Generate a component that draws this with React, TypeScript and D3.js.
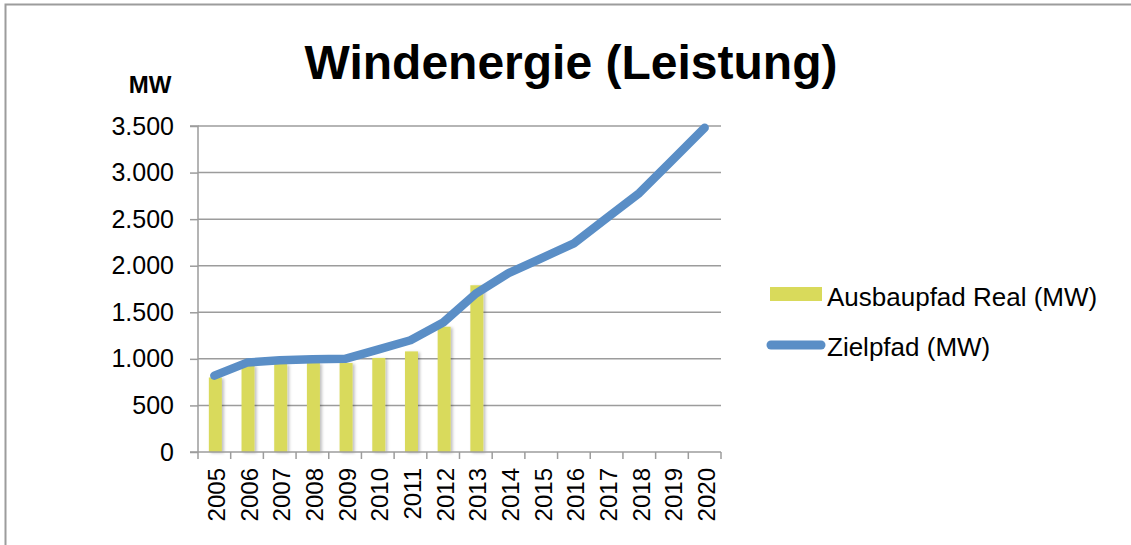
import * as d3 from "d3";
import { useEffect, useRef } from "react";

const years = [
  "2005", "2006", "2007", "2008", "2009", "2010", "2011", "2012",
  "2013", "2014", "2015", "2016", "2017", "2018", "2019", "2020",
];

// Ausbaupfad Real (MW), only until 2013
const realValues = [800, 930, 945, 955, 955, 1010, 1080, 1345, 1790];

// Zielpfad (MW)
const targetValues = [
  820, 960, 985, 995, 1000, 1100, 1200, 1390, 1700, 1920, 2080, 2240, 2510,
  2780, 3130, 3480,
];

const yTicks = [0, 500, 1000, 1500, 2000, 2500, 3000, 3500];

const seriesNames = ["Ausbaupfad Real (MW)", "Zielpfad (MW)"];

const BAR_COLOR = "#d9da5b";
const LINE_COLOR = "#5a8ec6";
const GRID_COLOR = "#9c9c9c";

const App = () => {
  const ref = useRef(null);

  useEffect(() => {
    const root = d3.select(ref.current);
    root.selectAll("*").remove();

    const width = 1131;
    const height = 545;
    const font = "'Liberation Sans', Arial, Helvetica, sans-serif";

    const svg = root
      .append("svg")
      .attr("width", width)
      .attr("height", height)
      .style("position", "absolute")
      .style("left", "0px")
      .style("top", "0px")
      .style("font-family", font);

    const defs = svg.append("defs");
    const shadow = defs.append("filter").attr("id", "barShadow")
      .attr("x", "-50%").attr("y", "-10%").attr("width", "200%").attr("height", "120%");
    shadow.append("feDropShadow")
      .attr("dx", 2).attr("dy", 1).attr("stdDeviation", 1.5)
      .attr("flood-color", "#000").attr("flood-opacity", 0.25);

    // outer frame (only top and left visible)
    svg.append("path")
      .attr("d", `M5.5,${height} V4.5 H${width}`)
      .attr("fill", "none")
      .attr("stroke", GRID_COLOR)
      .attr("stroke-width", 2);

    const plot = { left: 198, right: 721, top: 126, bottom: 452 };

    const x = d3.scaleBand().domain(years).range([plot.left, plot.right]).padding(0);
    const y = d3.scaleLinear().domain([0, 3500]).range([plot.bottom, plot.top]);

    // title
    svg.append("text")
      .attr("x", 571)
      .attr("y", 79)
      .attr("text-anchor", "middle")
      .attr("font-size", 48)
      .attr("font-weight", "bold")
      .text("Windenergie (Leistung)");

    svg.append("text")
      .attr("x", 150)
      .attr("y", 93)
      .attr("text-anchor", "middle")
      .attr("font-size", 24)
      .attr("font-weight", "bold")
      .text("MW");

    // gridlines
    svg.append("g")
      .selectAll("line")
      .data(yTicks.filter((d) => d > 0))
      .enter()
      .append("line")
      .attr("x1", plot.left)
      .attr("x2", plot.right)
      .attr("y1", (d) => y(d))
      .attr("y2", (d) => y(d))
      .attr("stroke", GRID_COLOR)
      .attr("stroke-width", 1.5);

    // y axis
    const yAxis = svg.append("g")
      .attr("transform", `translate(${plot.left},0)`)
      .call(
        d3.axisLeft(y)
          .tickValues(yTicks)
          .tickSize(8)
          .tickPadding(16)
          .tickFormat((d) => d3.format(",")(d).replace(/,/g, "."))
      );
    yAxis.select(".domain").attr("stroke", GRID_COLOR).attr("stroke-width", 1.5)
      .attr("d", `M-8,${plot.top}H0V${plot.bottom}`);
    yAxis.selectAll(".tick line").attr("stroke", GRID_COLOR).attr("stroke-width", 1.5);
    yAxis.selectAll(".tick text")
      .attr("font-size", 25)
      .attr("font-family", font)
      .attr("fill", "#000");

    // bars
    const barW = 13;
    svg.append("g")
      .selectAll("rect")
      .data(realValues)
      .enter()
      .append("rect")
      .attr("x", (d, i) => x(years[i]) + x.bandwidth() / 2 - barW / 2 + 1)
      .attr("y", (d) => y(d))
      .attr("width", barW)
      .attr("height", (d) => y(0) - y(d))
      .attr("fill", BAR_COLOR)
      .attr("filter", "url(#barShadow)");

    // x axis
    const xAxis = svg.append("g")
      .attr("transform", `translate(0,${plot.bottom})`);
    xAxis.append("line")
      .attr("x1", plot.left - 8)
      .attr("x2", plot.right)
      .attr("y1", 0)
      .attr("y2", 0)
      .attr("stroke", GRID_COLOR)
      .attr("stroke-width", 1.5);
    xAxis.selectAll("line.tick")
      .data([...years.map((d) => x(d)), plot.right])
      .enter()
      .append("line")
      .attr("class", "tick")
      .attr("x1", (d) => d)
      .attr("x2", (d) => d)
      .attr("y1", 0)
      .attr("y2", 7)
      .attr("stroke", GRID_COLOR)
      .attr("stroke-width", 1.5);
    xAxis.selectAll("text")
      .data(years)
      .enter()
      .append("text")
      .attr("transform", (d) => `translate(${x(d) + x.bandwidth() / 2 + 2},16) rotate(-90)`)
      .attr("text-anchor", "end")
      .attr("dominant-baseline", "central")
      .attr("font-size", 24)
      .text((d) => d);

    // target line
    const line = d3.line()
      .x((d, i) => x(years[i]) + x.bandwidth() / 2)
      .y((d) => y(d));
    svg.append("path")
      .datum(targetValues)
      .attr("d", line)
      .attr("fill", "none")
      .attr("stroke", LINE_COLOR)
      .attr("stroke-width", 8.5)
      .attr("stroke-linejoin", "round")
      .attr("stroke-linecap", "round");

    // legend
    const legend = svg.append("g");
    legend.append("rect")
      .attr("x", 770)
      .attr("y", 287)
      .attr("width", 52)
      .attr("height", 14)
      .attr("fill", BAR_COLOR);
    legend.append("text")
      .attr("x", 827)
      .attr("y", 306)
      .attr("font-size", 26)
      .text(seriesNames[0]);
    legend.append("line")
      .attr("x1", 771)
      .attr("x2", 821)
      .attr("y1", 345)
      .attr("y2", 345)
      .attr("stroke", LINE_COLOR)
      .attr("stroke-width", 9)
      .attr("stroke-linecap", "round");
    legend.append("text")
      .attr("x", 827)
      .attr("y", 356)
      .attr("font-size", 26)
      .text(seriesNames[1]);
  }, []);

  return <div ref={ref} style={{ width: "1131px", height: "545px" }} />;
};

export default App;
